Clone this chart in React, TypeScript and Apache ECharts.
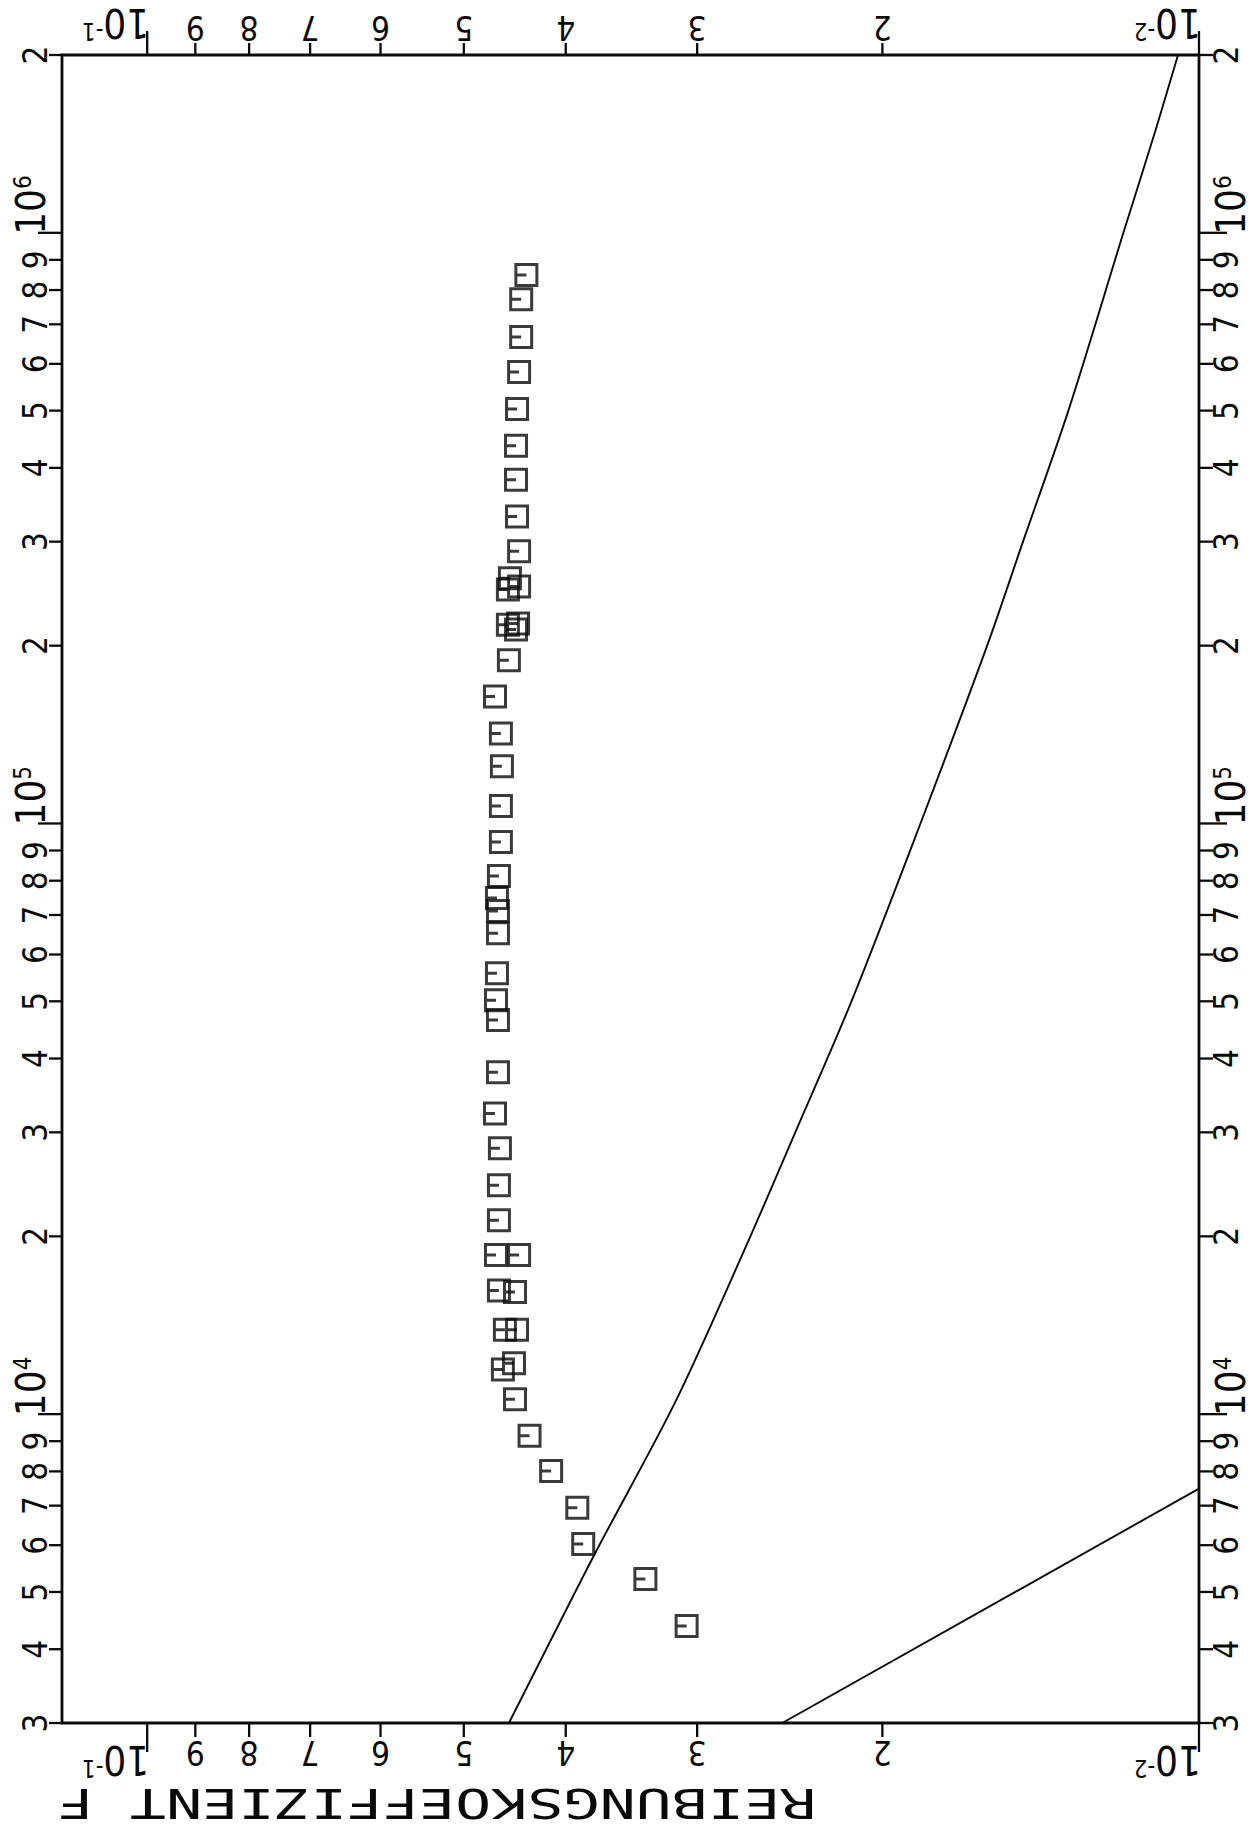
import React, { useEffect, useRef } from 'react';
import * as echarts from 'echarts';

// Measured friction coefficient F against Reynolds number Re
const reynolds = [
  848000, 772000, 666000, 581000, 503000, 436000, 382000, 331000, 289000, 260000,
  252000, 249000, 218000, 217000, 213000, 189000, 164000, 142000, 125000, 107000,
  93000, 81500, 74800, 71100, 65200, 55800, 50200, 46500, 37900, 32300,
  28200, 24400, 21300, 18600, 18600, 16200, 16100, 13900, 13900, 11900,
  12200, 10600, 9190, 8010, 6940, 6030, 5260, 4380,
];
const friction = [
  0.0436, 0.0441, 0.0441, 0.0443, 0.0445, 0.0446, 0.0446, 0.0445, 0.0443, 0.0452,
  0.0443, 0.0454, 0.0444, 0.0454, 0.0446, 0.0453, 0.0467, 0.0461, 0.046, 0.0461,
  0.0461, 0.0463, 0.0465, 0.0464, 0.0464, 0.0465, 0.0466, 0.0464, 0.0464, 0.0467,
  0.0462, 0.0463, 0.0463, 0.0466, 0.0443, 0.0463, 0.0447, 0.0457, 0.0445, 0.0459,
  0.0448, 0.0447, 0.0433, 0.0413, 0.039, 0.0385, 0.0336, 0.0307,
];

// Smooth-pipe reference curve
const smoothRe = [3000, 3850, 5820, 10570, 20000, 30000, 50000, 100000, 200000, 300000, 500000, 1000000, 1490000, 2000000];
const smoothF = [0.0453, 0.0422, 0.0375, 0.0314, 0.0267, 0.0242, 0.0214, 0.0184, 0.0159, 0.0147, 0.01331, 0.0118, 0.011, 0.01047];

// Laminar line
const laminarRe = [3000, 7480];
const laminarF = [0.0249, 0.01];

// Axis ticks and their labels ("10^n" marks a decade label)
const reTicks = [
  3000, 4000, 5000, 6000, 7000, 8000, 9000, 10000,
  20000, 30000, 40000, 50000, 60000, 70000, 80000, 90000, 100000,
  200000, 300000, 400000, 500000, 600000, 700000, 800000, 900000, 1000000, 2000000,
];
const reTickLabels = [
  '3', '4', '5', '6', '7', '8', '9', '10^4',
  '2', '3', '4', '5', '6', '7', '8', '9', '10^5',
  '2', '3', '4', '5', '6', '7', '8', '9', '10^6', '2',
];
const fTicks = [0.1, 0.09, 0.08, 0.07, 0.06, 0.05, 0.04, 0.03, 0.02, 0.01];
const fTickLabels = ['10^-1', '9', '8', '7', '6', '5', '4', '3', '2', '10^-2'];

const AXIS_TITLE = 'REIBUNGSKOEFFIZIENT F';

const INK = '#0a0a0a';
const FONT = '"DejaVu Sans Condensed", "Liberation Sans Narrow", "DejaVu Sans", sans-serif';
const MONO = '"DejaVu Sans Mono", monospace';

function tickLine(x1: number, y1: number, x2: number, y2: number) {
  return {
    type: 'line',
    shape: { x1, y1, x2, y2 },
    style: { stroke: INK, lineWidth: 2.3 },
  };
}

function tickText(x: number, y: number, label: string, rotation: number) {
  const isDecade = label.includes('^');
  const [base, exp] = label.split('^');
  const text = isDecade ? `{a|${base}}{b|${exp}}` : label;
  const align = isDecade ? 'left' : 'center';
  return {
    type: 'text',
    x,
    y,
    rotation,
    style: {
      text,
      x: 0,
      y: 0,
      fill: INK,
      fontFamily: FONT,
      fontSize: 33,
      align,
      textAlign: align,
      verticalAlign: 'middle',
      textVerticalAlign: 'middle',
      rich: {
        a: { fontSize: 40, fontFamily: FONT, fill: INK },
        b: { fontSize: 24, fontFamily: FONT, fill: INK, verticalAlign: 'top' },
      },
    },
  };
}

export default function App() {
  const ref = useRef<HTMLDivElement>(null);

  useEffect(() => {
    if (!ref.current) return;
    const chart = echarts.init(ref.current, undefined, { renderer: 'svg' });

    const renderReTick = (params: any, api: any) => {
      const cs = params.coordSys;
      const y = api.coord([0.05, api.value(1)])[1];
      const label = reTickLabels[params.dataIndex];
      const decade = label.includes('^');
      const left = cs.x;
      const right = cs.x + cs.width;
      return {
        type: 'group',
        children: [
          tickLine(left, y, left - (decade ? 24 : 13), y),
          tickLine(right, y, right + (decade ? 28 : 14), y),
          tickText(decade ? 31 : 35, decade ? y + 2 : y, label, Math.PI / 2),
          tickText(decade ? 1231 : 1226, decade ? y + 2 : y, label, Math.PI / 2),
        ],
      };
    };

    const renderFTick = (params: any, api: any) => {
      const cs = params.coordSys;
      const x = api.coord([api.value(0), 10000])[0];
      const label = fTickLabels[params.dataIndex];
      const decade = label.includes('^');
      const top = cs.y;
      const bottom = cs.y + cs.height;
      return {
        type: 'group',
        children: [
          tickLine(x, bottom, x, bottom + (decade ? 29 : 14)),
          tickLine(x, top, x, top - (decade ? 24 : 12)),
          tickText(decade ? x + 2 : x, decade ? 1760 : 1752, label, Math.PI),
          tickText(decade ? x + 2 : x, decade ? 23 : 27, label, Math.PI),
        ],
      };
    };

    chart.setOption({
      animation: false,
      backgroundColor: '#ffffff',
      grid: {
        left: 62,
        right: 58,
        top: 55,
        bottom: 104,
        show: true,
        borderColor: INK,
        borderWidth: 2.8,
        backgroundColor: 'transparent',
      },
      xAxis: {
        type: 'log',
        logBase: 10,
        min: 0.01,
        max: 0.1205,
        inverse: true,
        axisLine: { show: false },
        axisTick: { show: false },
        axisLabel: { show: false },
        splitLine: { show: false },
      },
      yAxis: {
        type: 'log',
        logBase: 10,
        min: 3000,
        max: 2000000,
        axisLine: { show: false },
        axisTick: { show: false },
        axisLabel: { show: false },
        splitLine: { show: false },
      },
      graphic: [
        {
          type: 'text',
          x: 437,
          y: 1803,
          rotation: Math.PI,
          scaleX: 1.5,
          style: {
            text: AXIS_TITLE,
            fill: INK,
            fontFamily: MONO,
            fontSize: 40,
            align: 'center',
            textAlign: 'center',
            verticalAlign: 'middle',
            textVerticalAlign: 'middle',
          },
        },
      ],
      series: [
        {
          name: 'smooth',
          type: 'line',
          data: smoothRe.map((r, i) => [smoothF[i], r]),
          symbol: 'none',
          smooth: 0.3,
          lineStyle: { color: INK, width: 1.9 },
          silent: true,
        },
        {
          name: 'laminar',
          type: 'line',
          data: laminarRe.map((r, i) => [laminarF[i], r]),
          symbol: 'none',
          lineStyle: { color: INK, width: 1.9 },
          silent: true,
        },
        {
          name: 'measured',
          type: 'scatter',
          data: reynolds.map((r, i) => [friction[i], r]),
          symbol: 'path://M0 0H20V20H0Z M0 10H10',
          symbolSize: 21,
          itemStyle: { color: 'rgba(0,0,0,0)', borderColor: INK, borderWidth: 3 },
          silent: true,
        },
        {
          name: 'reTicks',
          type: 'custom',
          data: reTicks.map((r) => [0.05, r]),
          renderItem: renderReTick,
          clip: false,
          silent: true,
        },
        {
          name: 'fTicks',
          type: 'custom',
          data: fTicks.map((f) => [f, 10000]),
          renderItem: renderFTick,
          clip: false,
          silent: true,
        },
      ],
    });

    return () => chart.dispose();
  }, []);

  return (
    <div
      ref={ref}
      style={{ position: 'fixed', left: 0, top: 0, width: 1257, height: 1827, background: '#fff' }}
    />
  );
}
